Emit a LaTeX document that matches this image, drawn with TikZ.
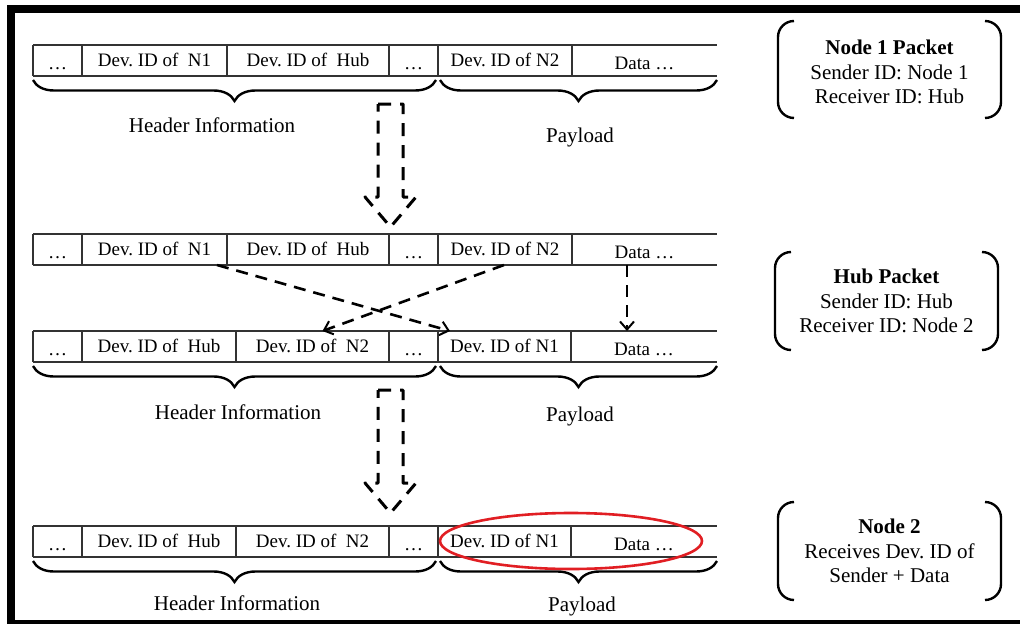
\documentclass[tikz,border=0pt]{standalone}
\usepackage{fontspec}
\setmainfont{Liberation Serif}
\usetikzlibrary{decorations.pathreplacing,arrows.meta,calc}
\definecolor{ovalred}{RGB}{225,30,35}
\begin{document}
\frenchspacing
\begin{tikzpicture}[x=1pt,y=-1pt,
  cell/.style={rectangle, inner sep=0pt, outer sep=0pt, minimum height=31pt, anchor=north west,
    text height=12pt, text depth=0pt, font=\fontsize{19}{22}\selectfont},
  lowcell/.style={cell, text height=18pt},
  tbl/.style={line width=1.2pt, black!80},
  brc/.style={line width=2.4pt, decorate, decoration={brace, mirror, amplitude=21pt}},
  lbl/.style={font=\fontsize{21}{24}\selectfont, inner sep=0pt, text height=14pt, text depth=4pt},
  info/.style={align=center, font=\fontsize{21}{24.5}\selectfont, inner sep=0pt},
  bracket/.style={line width=2.4pt, rounded corners=16pt},
  harrow/.style={line width=3pt, dash pattern=on 13pt off 9pt, line join=round},
  xarrow/.style={line width=2.6pt, dash pattern=on 12pt off 8pt, -{Straight Barb[length=8pt,width=14pt,line width=2pt]}}
]
\useasboundingbox (0,0) rectangle (1020,624);
\fill[white] (0,0) rectangle (1020,624);
% frame
\fill[black] (7,5) rectangle (1020,13);
\fill[black] (7,5) rectangle (15,624);
\fill[black] (7,620) rectangle (1020,624);

% ---------- Row 1 (Node 1 packet)
\node[lowcell, minimum width=49pt]  (r1a) at (33,45)  {\ldots};
\node[cell,    minimum width=145pt] (r1b) at (82,45)  {Dev. ID of\ \ N1};
\node[cell,    minimum width=162pt] (r1c) at (227,45) {Dev. ID of\ \ Hub};
\node[lowcell, minimum width=49pt]  (r1d) at (389,45) {\ldots};
\node[cell,    minimum width=134pt] (r1e) at (438,45) {Dev. ID of N2};
\node[lowcell, minimum width=145pt] (r1f) at (572,45) {Data \ldots};

% ---------- Row 2 (Hub received)
\node[lowcell, minimum width=49pt]  (r2a) at (33,234)  {\ldots};
\node[cell,    minimum width=145pt] (r2b) at (82,234)  {Dev. ID of\ \ N1};
\node[cell,    minimum width=162pt] (r2c) at (227,234) {Dev. ID of\ \ Hub};
\node[lowcell, minimum width=49pt]  (r2d) at (389,234) {\ldots};
\node[cell,    minimum width=134pt] (r2e) at (438,234) {Dev. ID of N2};
\node[lowcell, minimum width=145pt] (r2f) at (572,234) {Data \ldots};

% ---------- Row 3 (Hub sent)
\node[lowcell, minimum width=49pt]  (r3a) at (33,331)  {\ldots};
\node[cell,    minimum width=154pt] (r3b) at (82,331)  {Dev. ID of\ \ Hub};
\node[cell,    minimum width=153pt] (r3c) at (236,331) {Dev. ID of\ \ N2};
\node[lowcell, minimum width=49pt]  (r3d) at (389,331) {\ldots};
\node[cell,    minimum width=133pt] (r3e) at (438,331) {Dev. ID of N1};
\node[lowcell, minimum width=146pt] (r3f) at (571,331) {Data \ldots};

% ---------- Row 4 (Node 2 received)
\node[lowcell, minimum width=49pt]  (r4a) at (33,526)  {\ldots};
\node[cell,    minimum width=154pt] (r4b) at (82,526)  {Dev. ID of\ \ Hub};
\node[cell,    minimum width=153pt] (r4c) at (236,526) {Dev. ID of\ \ N2};
\node[lowcell, minimum width=49pt]  (r4d) at (389,526) {\ldots};
\node[cell,    minimum width=133pt] (r4e) at (438,526) {Dev. ID of N1};
\node[lowcell, minimum width=146pt] (r4f) at (571,526) {Data \ldots};

% table lines and braces
\foreach \r in {1,2,3,4}{
  \draw[tbl] (r\r a.north west) -- (r\r f.north east);
  \draw[tbl] (r\r a.south west) -- (r\r f.south east);
  \foreach \c in {a,b,c,d,e,f}{
    \draw[tbl] (r\r\c.north west) -- (r\r\c.south west);
  }
}
\foreach \r in {1,3,4}{
  \draw[brc] ([yshift=-4pt]r\r a.south west) -- ([xshift=-2pt,yshift=-4pt]r\r d.south east);
  \draw[brc] ([xshift=2pt,yshift=-4pt]r\r e.south west) -- ([yshift=-4pt]r\r f.south east);
}

% brace labels
\node[lbl] (h1) at (212,127) {Header Information};
\node[lbl] (p1) at (580,137) {Payload};
\node[lbl] (h3) at (238,414) {Header Information};
\node[lbl] (p3) at (580,416) {Payload};
\node[lbl] (h4) at (237,605) {Header Information};
\node[lbl] (p4) at (582,606) {Payload};

% hollow dashed arrows
\coordinate (ha1) at (390.5,104);
\coordinate (ha2) at (390.5,390);
\foreach \h in {ha1,ha2}{
  \draw[harrow] ($(\h)+(-12.5,0)$) -- ++(25,0) -- ++(0,93) -- ++(13,0) -- ++(-25.5,30)
     -- ++(-25.5,-30) -- ++(13,0) -- cycle;
}

% crossing arrows (hub swaps IDs)
\draw[xarrow] ([xshift=-10pt]r2b.south east) -- ([xshift=12pt]r3e.north west);
\draw[xarrow] ([xshift=-1pt]r2e.south) -- ([xshift=10pt]r3c.north);
\draw[xarrow] ([xshift=-17.5pt]r2f.south) -- ([xshift=-17pt]r3f.north);

% red oval around payload of final packet
\draw[ovalred, line width=2.6pt] (571,541) ellipse [x radius=131pt, y radius=28pt];

% info texts with brackets
\node[info] (t1) at (889.5,72) {\textbf{Node 1 Packet}\\Sender ID: Node 1\\Receiver ID: Hub};
\node[info] (t2) at (886.5,301) {\textbf{Hub Packet}\\Sender ID: Hub\\Receiver ID: Node 2};
\node[info] (t3) at (889.5,551) {\textbf{Node 2}\\Receives Dev. ID of\\Sender + Data};

\draw[bracket] (794,21) -- (778,21) -- (778,118) -- (794,118);
\draw[bracket] (985,21) -- (1001,21) -- (1001,118) -- (985,118);
\draw[bracket] (791,252) -- (775,252) -- (775,350) -- (791,350);
\draw[bracket] (982,252) -- (998,252) -- (998,350) -- (982,350);
\draw[bracket] (794,502) -- (778,502) -- (778,600) -- (794,600);
\draw[bracket] (985,502) -- (1001,502) -- (1001,600) -- (985,600);
\end{tikzpicture}
\end{document}
